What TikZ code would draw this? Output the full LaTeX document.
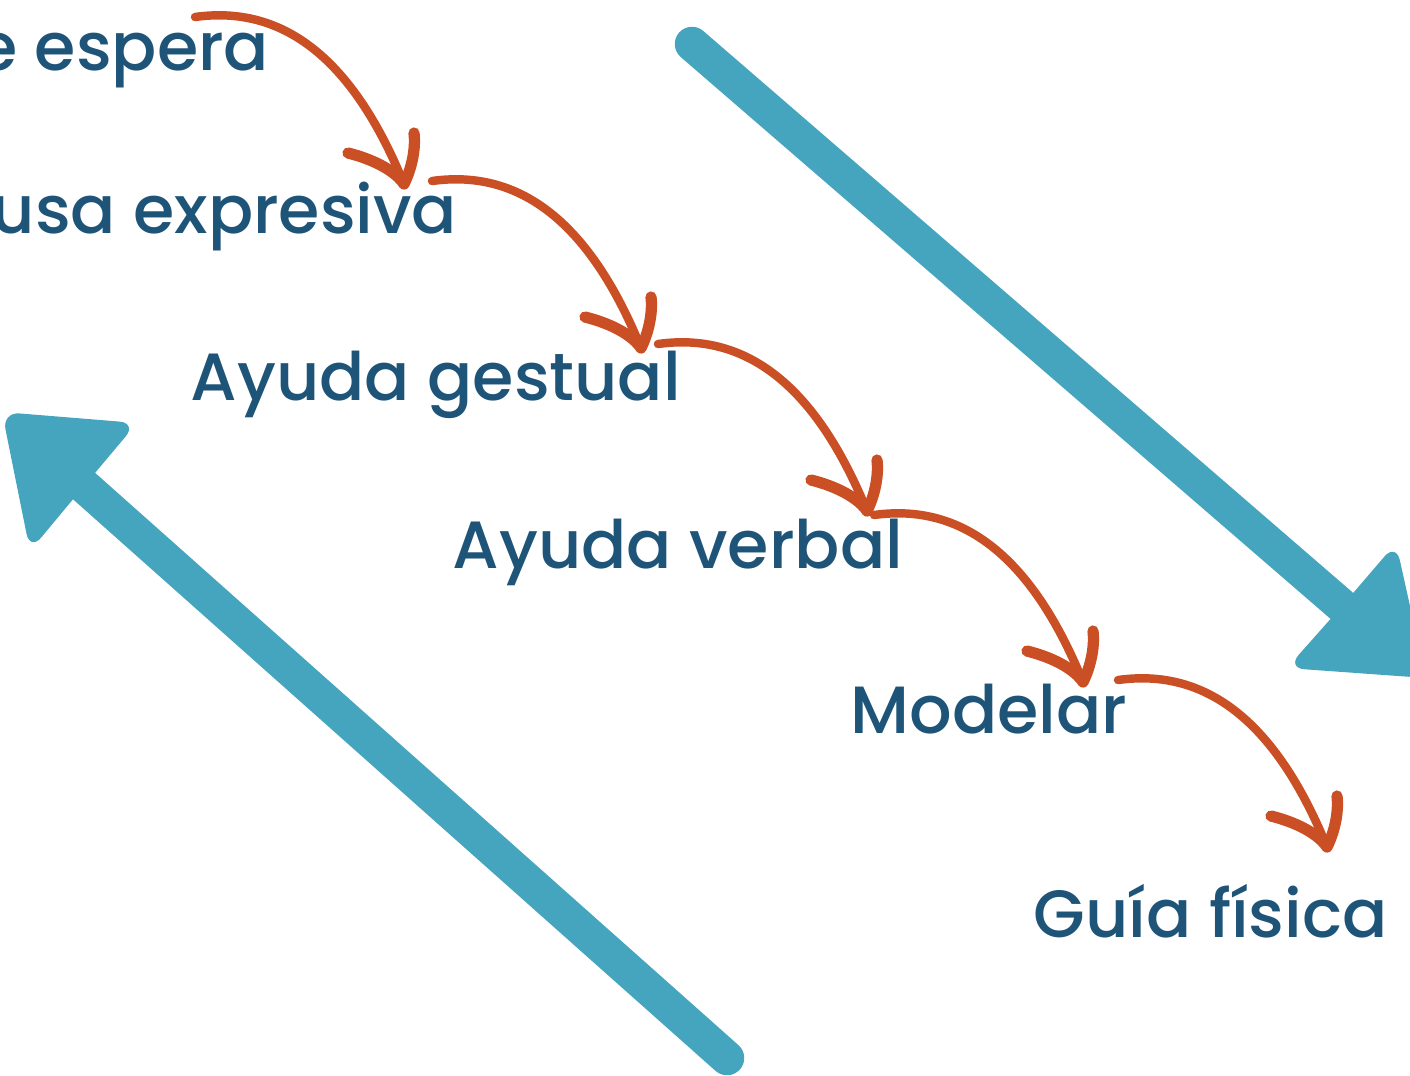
\documentclass[tikz,border=0pt]{standalone}
\usepackage{fontspec}
\setmainfont{Poppins Medium}
\definecolor{labelblue}{HTML}{1F5479}
\definecolor{hoporange}{HTML}{CB4F25}
\definecolor{bigteal}{HTML}{45A5BF}
\begin{document}
\begin{tikzpicture}[x=0.01cm, y=-0.01cm,
    label/.style={text=labelblue, inner sep=0pt, font=\fontsize{19}{23}\selectfont},
    hop/.style={draw=hoporange, line width=2.4pt, line cap=round},
    barb/.style={draw=hoporange, line width=3.2pt, line cap=round, line join=round},
    shaft/.style={draw=bigteal, line width=9.8pt, line cap=round},
    head/.style={fill=bigteal, rounded corners=5pt}]
  \useasboundingbox (0,0) rectangle (1410,1075);
  \clip (0,0) rectangle (1410,1075);
  \draw[shaft] (692,44) coordinate (downtail) -- (1342,606) coordinate (downhead);
  \fill[head] (downhead) -- (1396,543) -- (1426,678) -- (1287,668) -- cycle;
  \draw[shaft] (727,1058) coordinate (uptail) -- (84,486) coordinate (uphead);
  \fill[head] (uphead) -- (137,423) -- (2,412) -- (30,551) -- cycle;
  \node[label, anchor=base east] (espera) at (270,70) {Tiempo de espera};
  \node[label, anchor=base east] (pausa) at (458,233) {Pausa expresiva};
  \node[label, anchor=base west] (gestual) at (190,400) {Ayuda gestual};
  \node[label, anchor=base west] (verbal) at (452,568) {Ayuda verbal};
  \node[label, anchor=base west] (modelar) at (850,733) {Modelar};
  \node[label, anchor=base west] (guia) at (1033,937) {Guía física};
  \foreach \dx/\dy [count=\i] in {0/0, 237/164, 463/327, 679/498, 923/663}{
    \coordinate (s\i) at (195+\dx,17+\dy);
    \coordinate (t\i) at (404+\dx,184+\dy);
    \draw[hop] (s\i) .. controls +(100,-14) and +(-44,-108) .. (t\i);
    \draw[barb] ([shift={(-56,-31)}]t\i) .. controls ([shift={(-28,-24)}]t\i) and ([shift={(-8,-12)}]t\i) .. (t\i)
      .. controls ([shift={(7,-14)}]t\i) and ([shift={(12,-34)}]t\i) .. ([shift={(10,-51)}]t\i);
  }
\end{tikzpicture}
\end{document}
